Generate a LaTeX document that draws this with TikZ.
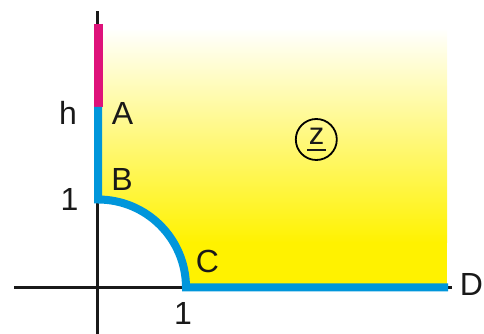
\documentclass[tikz,border=0pt]{standalone}
\usepackage{fontspec}
\setmainfont{Liberation Sans}
\definecolor{zyellow}{RGB}{255,242,0}
\definecolor{zblue}{RGB}{0,150,219}
\definecolor{zpink}{RGB}{222,18,122}
\begin{document}
\begin{tikzpicture}[x=1pt,y=1pt,
  axis/.style={line width=3.5pt,black!90},
  bound/.style={line width=8pt,zblue},
  lbl/.style={font=\fontsize{32}{32}\selectfont,inner sep=0pt,text=black!90}]
\useasboundingbox (0,0) rectangle (484,334);
% yellow region
\shade[top color=white,bottom color=zyellow] (98,91) rectangle (447,306);
\fill[zyellow] (98,46.5) rectangle (447,91.5);
\fill[white] (98,46.5) -- (98,134.5) arc (90:0:88) -- cycle;
% axes
\coordinate (xl) at (14,46.5);
\coordinate (xr) at (452,46.5);
\coordinate (yb) at (97.5,0);
\coordinate (yt) at (97.5,323);
\draw[axis] (xl) -- (xr);
\draw[axis] (yb) -- (yt);
% boundary
\coordinate (top) at (98,310);
\coordinate (A) at (98,227);
\coordinate (B) at (98,134.5);
\coordinate (D) at (448,46.5);
\draw[line width=9pt,zpink] (top) -- (A);
\draw[bound] (A) -- (B) arc (90:0:88) -- (D);
% labels
\node[lbl] (hl) at (68,221) {h};
\node[lbl] (Al) at (122.5,221) {A};
\node[lbl] (Bl) at (122,155) {B};
\node[lbl] (onel) at (69.5,135) {1};
\node[lbl] (Cl) at (207.5,73) {C};
\node[lbl] (oneb) at (183,20.5) {1};
\node[lbl] (Dl) at (471.5,49.5) {D};
\node[draw,circle,line width=1.8pt,minimum size=41pt,inner sep=0pt,text=black!90] (z) at (316.3,194.5) {};
\node[inner sep=0pt,anchor=base,font=\fontsize{31}{31}\selectfont,text=black!90] (zt) at (316.5,189) {z};
\draw[line width=1.6pt,black!90] ([xshift=-9pt]z.center |- 0,184) coordinate (ul) -- ([xshift=9.5pt]z.center |- 0,184) coordinate (ur);
\end{tikzpicture}
\end{document}
